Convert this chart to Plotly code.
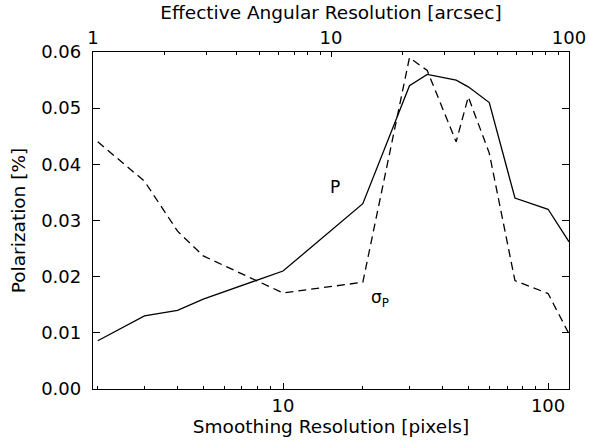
import plotly.graph_objects as go

# Smoothing resolution [pixels]
p_x = [2, 3, 4, 5, 10, 20, 30, 35, 45, 50, 60, 75, 100, 120]
p_vals = [0.0086, 0.0130, 0.0140, 0.0160, 0.0210, 0.0330, 0.0540, 0.0560, 0.0550, 0.0538, 0.0510, 0.0340, 0.0320, 0.0262]

sig_x = [2, 3, 4, 5, 10, 20, 30, 35, 45, 50, 60, 75, 100, 120]
sig_vals = [0.0440, 0.0370, 0.0281, 0.0237, 0.0171, 0.0190, 0.0590, 0.0567, 0.0440, 0.0520, 0.0420, 0.0193, 0.0170, 0.0098]

bottom_major = [10, 100]
bottom_minor = [2, 3, 4, 5, 6, 7, 8, 9, 20, 30, 40, 50, 60, 70, 80, 90]
top_major = [1, 10, 100]
top_minor = [2, 3, 4, 5, 6, 7, 8, 9, 20, 30, 40, 50, 60, 70, 80, 90]
y_ticks = [0.00, 0.01, 0.02, 0.03, 0.04, 0.05, 0.06]

FONT = "DejaVu Sans"
FS = 18.5   # axis titles
TFS = 18    # tick labels
LFS = 17    # in-plot labels

fig = go.Figure()
fig.add_trace(go.Scatter(x=p_x, y=p_vals, mode="lines",
                         line=dict(color="black", width=1.3), showlegend=False, hoverinfo="skip"))
fig.add_trace(go.Scatter(x=sig_x, y=sig_vals, mode="lines",
                         line=dict(color="black", width=1.3, dash="8px,5px"), showlegend=False,
                         hoverinfo="skip"))
# attach the top (arcsec) axis so it is drawn; no visible marks
fig.add_trace(go.Scatter(x=top_major, y=[None] * len(top_major), xaxis="x2", yaxis="y",
                         mode="lines", showlegend=False, hoverinfo="skip"))

fig.update_layout(
    width=589, height=443,
    margin=dict(l=93, r=20, t=52, b=54),
    paper_bgcolor="white", plot_bgcolor="white",
    font=dict(family=FONT, size=FS, color="black"),
    xaxis=dict(type="log", range=[0.283, 2.079], showgrid=False, zeroline=False,
               showline=True, linecolor="black", linewidth=1.3, mirror=False, automargin=False,
               tickmode="array", tickvals=bottom_major, ticktext=[str(v) for v in bottom_major],
               ticks="inside", ticklen=6, tickwidth=1.2, tickcolor="black",
               minor=dict(tickmode="array", tickvals=bottom_minor, ticks="inside", ticklen=3,
                          tickwidth=1.2, tickcolor="black", showgrid=False),
               title=dict(text="Smoothing Resolution [pixels]", standoff=0,
                          font=dict(size=FS, family=FONT)),
               tickfont=dict(size=TFS, family=FONT)),
    xaxis2=dict(type="log", range=[0, 2], overlaying="x", side="top", anchor="y",
                showgrid=False, zeroline=False, showline=True, linecolor="black", linewidth=1.3,
                automargin=False,
                tickmode="array", tickvals=top_major, ticktext=[str(v) for v in top_major],
                ticks="inside", ticklen=5, tickwidth=1.2, tickcolor="black",
                minor=dict(tickmode="array", tickvals=top_minor, ticks="inside", ticklen=3,
                           tickwidth=1.2, tickcolor="black", showgrid=False),
                title=dict(text="Effective Angular Resolution [arcsec]", standoff=2,
                           font=dict(size=FS, family=FONT)),
                tickfont=dict(size=TFS, family=FONT)),
    yaxis=dict(range=[0, 0.06], showgrid=False, zeroline=False, showline=True,
               linecolor="black", linewidth=1.3, mirror="ticks", automargin=False,
               tickmode="array", tickvals=y_ticks, ticktext=[f"{v:.2f}" for v in y_ticks],
               ticks="inside", ticklen=7, tickwidth=1.2, tickcolor="black",
               ticklabelstandoff=7,
               title=dict(text="Polarization [%]", standoff=10, font=dict(size=FS, family=FONT)),
               tickfont=dict(size=TFS, family=FONT)),
)

fig.add_annotation(x=1.196, y=0.0360, xref="x", yref="y", text="P", showarrow=False,
                   font=dict(size=LFS, family=FONT))
fig.add_annotation(x=1.366, y=0.0162, xref="x", yref="y", text="σ<sub>P</sub>", showarrow=False,
                   font=dict(size=LFS, family=FONT))

fig.write_html("out.html", config={"displayModeBar": False},
               post_script="document.body.style.margin='0';")
